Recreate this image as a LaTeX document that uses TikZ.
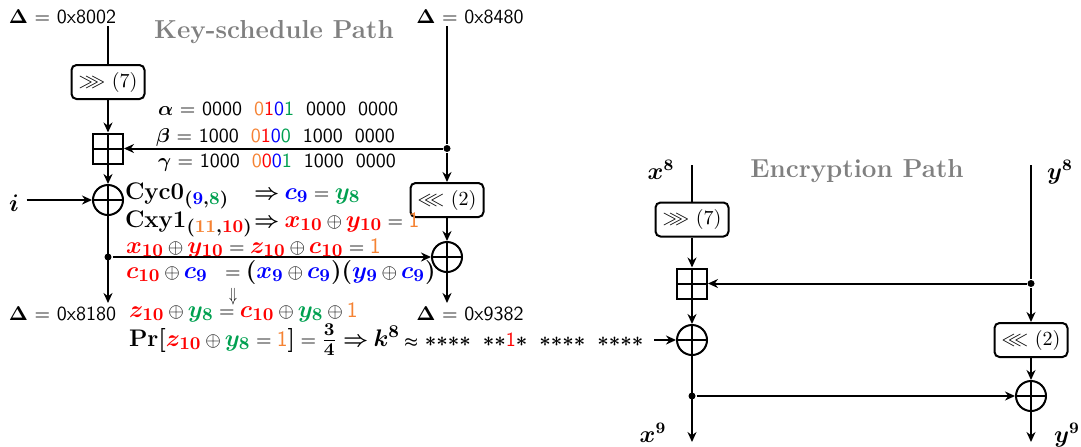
\documentclass[tikz,border=0pt]{standalone}
\usepackage{amsmath,amssymb}
\usepackage{bm}
\usepackage{graphicx}
\usepackage{tikz}
\usetikzlibrary{arrows.meta,positioning,shapes}
\definecolor{korange}{RGB}{245,130,50}
\definecolor{kgreen}{RGB}{0,160,80}
\definecolor{kblue}{RGB}{0,0,255}
\definecolor{kred}{RGB}{255,0,0}
\newcommand{\cbits}[4]{\textcolor{korange}{#1}\textcolor{kred}{#2}\textcolor{kblue}{#3}\textcolor{kgreen}{#4}}
\newcommand{\bgap}{\hspace{6pt}}
\newcommand{\kst}{\ensuremath{\ast}}
\newcommand{\ox}{\mathbin{\text{\fontsize{10}{12}\selectfont\unboldmath$\oplus$}}}
\newcommand{\eqs}{\mathrel{\text{\fontsize{10}{12}\selectfont\sffamily=}}}
\newcommand{\imp}{\mathrel{\text{\fontsize{10.5}{12}\selectfont$\Rightarrow$}}}
\newcommand{\kone}{\textcolor{korange}{\text{\fontsize{11}{12}\selectfont\sffamily 1}}}
\newcommand{\tightmath}{\medmuskip=2.5mu\relax\thickmuskip=3.5mu\relax}

\begin{document}
\begin{tikzpicture}[x=0.5pt,y=-0.5pt,line width=1pt,
    >={Stealth[length=5pt,width=4.5pt]},
    rot/.style={draw,rounded corners=2.5pt,minimum width=36.5pt,minimum height=17pt,inner sep=0pt},
    madd/.style={draw,minimum size=15pt,inner sep=0pt,path picture={\draw (path picture bounding box.north)--(path picture bounding box.south) (path picture bounding box.west)--(path picture bounding box.east);}},
    xorop/.style={madd,circle},
    dot/.style={circle,fill,inner sep=0pt,minimum size=3.5pt},
    lbl/.style={anchor=base,font=\sffamily},
    bits/.style={anchor=base west,inner sep=0pt,font=\sffamily},
    eq/.style={anchor=base west,inner sep=0pt,font=\fontsize{12.5}{14}\selectfont\boldmath\tightmath},
    var/.style={font=\fontsize{12}{14}\selectfont\boldmath},
    ttl/.style={anchor=base,font=\fontsize{13}{15}\selectfont\bfseries,text=black!50}]
  \useasboundingbox (0,0) rectangle (1081,446);

  \node[lbl] (dA) at (62.5,23.5) {$\bm{\Delta}$ = 0x8002};
  \node[lbl] (dB) at (470,23.5) {$\bm{\Delta}$ = 0x8480};
  \node[ttl] (kt) at (274,38) {Key-schedule Path};
  \coordinate (ks) at (108,26);
  \coordinate (ks2) at (447,26);
  \node[rot] (krot) at (108,82) {$\ggg$ (7)};
  \node[madd] (kadd) at (108,148.5) {};
  \node[xorop] (kxor) at (108,200) {};
  \node[dot] (kdot) at (108,257) {};
  \coordinate (kend) at (108,303);
  \node[dot] (kbr) at (447,148.5) {};
  \node[rot] (krot2) at (447,200) {$\lll$ (2)};
  \node[xorop] (kxor2) at (447,257) {};
  \coordinate (kend2) at (447,303);
  \node[var] (il) at (14,203) {$i$};
  \node[lbl] (dC) at (62.5,320) {$\bm{\Delta}$ = 0x8180};
  \node[lbl] (dD) at (470,320) {$\bm{\Delta}$ = 0x9382};

  \node[bits] (al) at (157,115.5) {$\bm{\alpha}$ = 0000\bgap\cbits0101\bgap0000\bgap0000};
  \node[bits] (be) at (155,142) {$\bm{\beta}$ = 1000\bgap\cbits0100\bgap1000\bgap0000};
  \node[bits] (ga) at (157,167) {$\bm{\gamma}$ = 1000\bgap\cbits0001\bgap1000\bgap0000};

  \node[eq] (c1) at (124,199) {$\mathbf{Cyc0}_{(\textcolor{kblue}{9},\textcolor{kgreen}{8})}$};
  \node[eq] (c1r) at (253,199) {$\imp\textcolor{kblue}{c_9}\eqs\textcolor{kgreen}{y_8}$};
  \node[eq] (c2) at (124,227) {$\mathbf{Cxy1}_{(\textcolor{korange}{11},\textcolor{kred}{10})}$};
  \node[eq] (c2r) at (253,227) {$\imp\textcolor{kred}{x_{10}}\ox\textcolor{kred}{y_{10}}\eqs\kone$};
  \node[eq] (c3) at (125,253) {$\textcolor{kred}{x_{10}}\ox\textcolor{kred}{y_{10}}\eqs\textcolor{kred}{z_{10}}\ox\textcolor{kred}{c_{10}}\eqs\kone$};
  \node[eq] (c4) at (125,278) {$\textcolor{kred}{c_{10}}\ox\textcolor{kblue}{c_9}$};
  \node[eq] (c4r) at (224,278) {$\eqs(\textcolor{kblue}{x_9}\ox\textcolor{kblue}{c_9})(\textcolor{kblue}{y_9}\ox\textcolor{kblue}{c_9})$};
  \node[eq] (c5) at (128,317) {$\textcolor{kred}{z_{10}}\ox\textcolor{kgreen}{y_8}\eqs\textcolor{kred}{c_{10}}\ox\textcolor{kgreen}{y_8}\ox\kone$};
  \node[inner sep=0pt] (dn) at (233,297) {\scalebox{0.65}[0.95]{$\Downarrow$}};
  \node[eq] (c6) at (128,346) {$\mathbf{Pr}[\textcolor{kred}{z_{10}}\ox\textcolor{kgreen}{y_8}\eqs\kone]\eqs\tfrac{3}{4}$};
  \node[eq] (c6r) at (342,346) {$\imp k^8$};
  \node[bits,font=\sffamily\boldmath] (kg) at (403,346) {{\scriptsize$\approx$}\ \kst\kst\kst\kst\bgap\kst\kst\textcolor{kred}{\unboldmath\sffamily 1}\kst\bgap\kst\kst\kst\kst\bgap\kst\kst\kst\kst};

  \node[var] (x8) at (661,170) {$x^8$};
  \node[ttl] (et) at (857,177) {Encryption Path};
  \node[var] (y8) at (1060,172) {$y^8$};
  \coordinate (es) at (692,165);
  \coordinate (es2) at (1031,165);
  \node[rot] (erot) at (692,219.5) {$\ggg$ (7)};
  \node[madd] (eadd) at (692,283.5) {};
  \node[xorop] (exor) at (692,340) {};
  \node[dot] (edot) at (692,396) {};
  \coordinate (eend) at (692,442);
  \node[dot] (ebr) at (1031,283.5) {};
  \node[rot] (erot2) at (1031,340) {$\lll$ (2)};
  \node[xorop] (exor2) at (1031,396) {};
  \coordinate (eend2) at (1031,442);
  \node[var] (x9) at (653,433) {$x^9$};
  \node[var] (y9) at (1067,435) {$y^9$};

  \draw (ks) -- (krot);
  \draw[->] (krot) -- (kadd);
  \draw[->] (kadd) -- (kxor);
  \draw[->] (kxor) -- (kend);
  \draw[->] (kdot) -- (kxor2);
  \draw (ks2) -- (kbr);
  \draw[->] (kbr) -- (kadd);
  \draw[->] (kbr) -- (krot2);
  \draw[->] (krot2) -- (kxor2);
  \draw[->] (kxor2) -- (kend2);
  \draw[->] (il.east |- kxor) -- (kxor.west);

  \draw (es) -- (erot);
  \draw[->] (erot) -- (eadd);
  \draw[->] (eadd) -- (exor);
  \draw[->] (exor) -- (eend);
  \draw[->] (edot) -- (exor2);
  \draw (es2) -- (ebr);
  \draw[->] (ebr) -- (eadd);
  \draw[->] (ebr) -- (erot2);
  \draw[->] (erot2) -- (exor2);
  \draw[->] (exor2) -- (eend2);
  \draw[->,shorten <=5pt] (kg.east |- exor) -- (exor.west);
\end{tikzpicture}
\end{document}
